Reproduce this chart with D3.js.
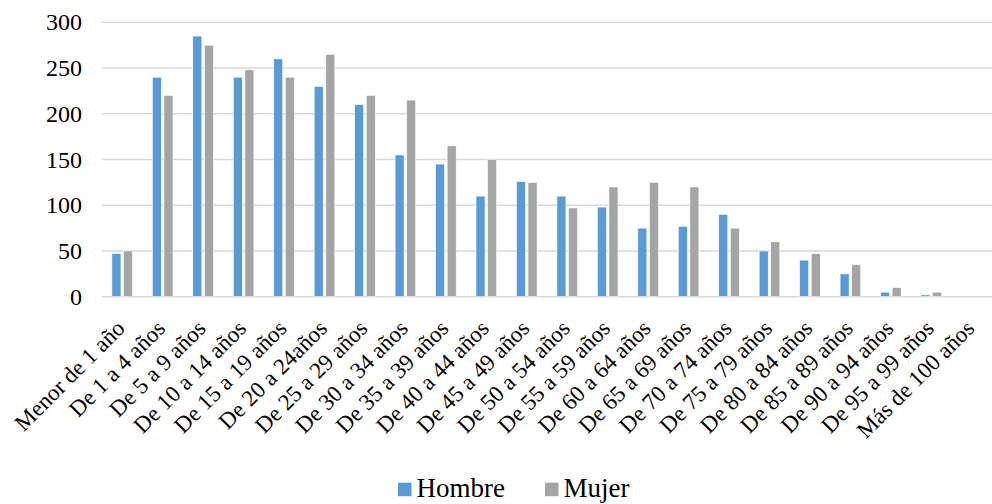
<!DOCTYPE html>
<html>
<head>
<meta charset="utf-8">
<script src="https://cdn.jsdelivr.net/npm/d3@7"></script>
<style>
  html, body { margin: 0; padding: 0; background: #fff; }
  svg { display: block; }
  svg text { font-family: "Liberation Serif", Tinos, "Times New Roman", "DejaVu Serif", serif !important; fill: #000; }
</style>
</head>
<body>
<svg id="chart" width="992" height="504"></svg>
<script>
const categories = ["Menor de 1 año","De 1 a 4 años","De 5 a 9 años","De 10 a 14 años","De 15 a 19 años","De 20 a 24años","De 25 a 29 años","De 30 a 34 años","De 35 a 39 años","De 40 a 44 años","De 45 a 49 años","De 50 a 54 años","De 55 a 59 años","De 60 a 64 años","De 65 a 69 años","De 70 a 74 años","De 75 a 79 años","De 80 a 84 años","De 85 a 89 años","De 90 a 94 años","De 95 a 99 años","Más de 100 años"];
const seriesNames = ["Hombre","Mujer"];
const hombre = [47,240,285,240,260,230,210,155,145,110,126,110,98,75,77,90,50,40,25,5,2,0];
const mujer  = [50,220,275,248,240,265,220,215,165,150,125,97,120,125,120,75,60,47,35,10,5,0];
const yTicks = [0,50,100,150,200,250,300];
const colors = ["#5B9BD5","#A5A5A5"];

const FONT = "'Liberation Serif', Tinos, 'Times New Roman', 'DejaVu Serif', serif";
const svg = d3.select("#chart");
const plotLeft = 102, plotRight = 992, plotTop = 22.3, plotBottom = 296.7;

const x = d3.scaleBand().domain(categories).range([plotLeft, plotRight]).paddingInner(0.49).paddingOuter(0.245);
const xs = d3.scaleBand().domain(seriesNames).range([0, x.bandwidth()]).paddingInner(0.22);
const y = d3.scaleLinear().domain([0, 300]).range([plotBottom, plotTop]);

// gridlines
svg.append("g").selectAll("line").data(yTicks).join("line")
  .attr("x1", plotLeft).attr("x2", plotRight)
  .attr("y1", d => y(d)).attr("y2", d => y(d))
  .attr("stroke", "#D9D9D9").attr("stroke-width", 1.5);

// y axis labels
const yAxis = d3.axisLeft(y).tickValues(yTicks).tickSize(0).tickPadding(0);
const yg = svg.append("g").attr("transform", `translate(${plotLeft - 20},0)`).call(yAxis)
  .attr("font-family", FONT).attr("font-size", 24);
yg.select(".domain").remove();
yg.selectAll("text").attr("font-size", 24).attr("fill", "#000").attr("dy", "0.32em");

// bars
const data = categories.map((c, i) => ({c, vals: [{s: "Hombre", v: hombre[i]}, {s: "Mujer", v: mujer[i]}]}));
const groups = svg.append("g").selectAll("g").data(data).join("g")
  .attr("transform", d => `translate(${x(d.c)},0)`);
groups.selectAll("rect").data(d => d.vals).join("rect")
  .attr("x", d => xs(d.s)).attr("width", xs.bandwidth())
  .attr("y", d => y(d.v)).attr("height", d => y(0) - y(d.v))
  .attr("fill", (d, i) => colors[i])
  .attr("stroke", "#fff").attr("stroke-width", 0.6);

// category labels
const xAxis = d3.axisBottom(x).tickSize(0).tickPadding(0);
const xg = svg.append("g").attr("transform", `translate(0,${plotBottom})`).call(xAxis)
  .attr("font-family", FONT).attr("font-size", 23);
xg.select(".domain").remove();
xg.selectAll("text")
  .attr("fill", "#000")
  .attr("text-anchor", "end").attr("dy", null).attr("y", null)
  .attr("transform", "translate(4,33) rotate(-45)");

// legend
const legend = svg.append("g").attr("font-family", FONT);
const legX = [398, 545];
seriesNames.forEach((s, i) => {
  legend.append("rect").attr("x", legX[i]).attr("y", 482.7).attr("width", 13.5).attr("height", 13.5).attr("fill", colors[i]);
  legend.append("text").attr("x", legX[i] + 18.5).attr("y", 496.5).attr("font-size", 27).text(s);
});
</script>
</body>
</html>
